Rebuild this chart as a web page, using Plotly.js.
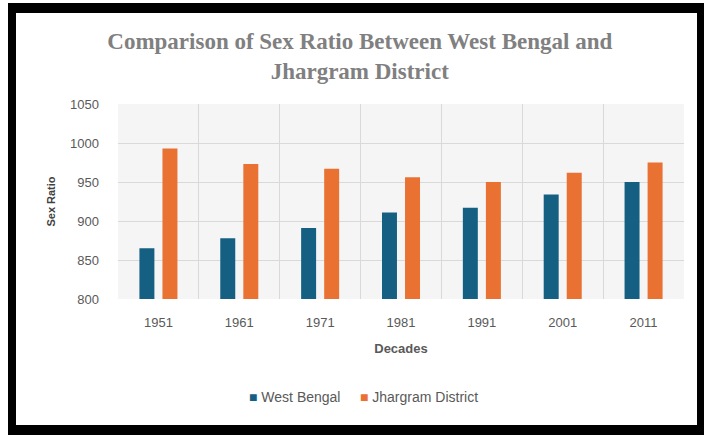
<!DOCTYPE html>
<html>
<head>
<meta charset="utf-8">
<script src="https://cdn.plot.ly/plotly-3.0.1.min.js"></script>
<style>
  html, body { margin: 0; padding: 0; background: #ffffff; }
  #wrap { position: relative; width: 704px; height: 435px; overflow: hidden; }
  #chart { position: absolute; left: 0; top: 0; width: 704px; height: 435px; }
  #frame { position: absolute; left: 8px; top: 3px; width: 696px; height: 432px;
           box-sizing: border-box; border-style: solid; border-color: #000;
           border-width: 10px 7px 10px 8px; pointer-events: none; }
</style>
</head>
<body>
<div id="wrap">
  <div id="chart"></div>
  <div id="frame"></div>
</div>
<script>
const decades = ["1951", "1961", "1971", "1981", "1991", "2001", "2011"];
const westBengal = [865, 878, 891, 911, 917, 934, 950];
const jhargram = [993, 973, 967, 956, 950, 962, 975];
const yTicks = [800, 850, 900, 950, 1000, 1050];
const seriesNames = ["West Bengal", "Jhargram District"];
const seriesColors = ["#156082", "#E97132"];

const traces = [
  { type: "bar", name: seriesNames[0], x: decades, y: westBengal,
    marker: { color: seriesColors[0] } },
  { type: "bar", name: seriesNames[1], x: decades, y: jhargram,
    marker: { color: seriesColors[1] } }
];

const legendText = seriesNames.map((n, i) =>
  '<span style="color:' + seriesColors[i] + ';font-size:14px">■</span> ' + n
).join('&nbsp;&nbsp;&nbsp;&nbsp;&nbsp;');

const layout = {
  width: 704, height: 435,
  margin: { l: 118, r: 20, t: 104, b: 136 },
  paper_bgcolor: "rgba(0,0,0,0)",
  plot_bgcolor: "#f5f5f5",
  barmode: "group",
  bargap: 0.43,
  bargroupgap: 0.35,
  showlegend: false,
  title: {
    text: "Comparison of Sex Ratio Between West Bengal and<br>Jhargram District",
    font: { family: "Liberation Serif", size: 23, color: "#808080", weight: "bold" },
    x: 0.511, xanchor: "center", y: 0.888, yanchor: "top"
  },
  xaxis: {
    type: "category",
    tickson: "boundaries",
    showgrid: true, gridcolor: "#d9d9d9", gridwidth: 1,
    ticks: "", showline: false, zeroline: false,
    tickfont: { family: "Liberation Sans", size: 13, color: "#595959" },
    ticklabelstandoff: 14,
    title: { text: "Decades", standoff: 14,
             font: { family: "Liberation Sans", size: 13, color: "#595959", weight: "bold" } }
  },
  yaxis: {
    range: [800, 1050],
    tickvals: yTicks,
    showgrid: true, gridcolor: "#d9d9d9", gridwidth: 1,
    ticks: "", showline: false, zeroline: false,
    tickfont: { family: "Liberation Sans", size: 13, color: "#595959" },
    ticklabelstandoff: 18,
    title: { text: "Sex Ratio", standoff: 12,
             font: { family: "Liberation Sans", size: 11, color: "#404040", weight: "bold" } }
  },
  annotations: [{
    xref: "paper", yref: "paper", x: 0.4346, y: -0.5026,
    xanchor: "center", yanchor: "middle", showarrow: false,
    text: legendText,
    font: { family: "Liberation Sans", size: 14, color: "#595959" }
  }]
};

Plotly.newPlot("chart", traces, layout, { displayModeBar: false, staticPlot: true });
</script>
</body>
</html>
